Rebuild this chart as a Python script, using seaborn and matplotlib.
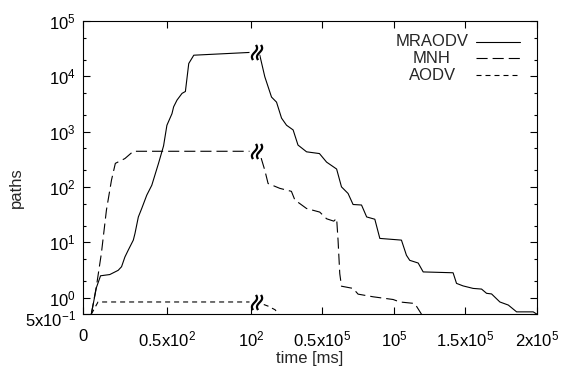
import numpy as np
import pandas as pd
import matplotlib
matplotlib.use("Agg")
import matplotlib.pyplot as plt
from matplotlib.path import Path
from matplotlib.lines import Line2D
from matplotlib.transforms import ScaledTranslation
from matplotlib.ticker import FixedLocator, FixedFormatter, LogLocator, NullFormatter
import seaborn as sns

# --- data (time in ms) ---
mraodv_t = [5, 8, 10.5, 16, 21, 23, 25, 27, 30, 31, 33, 35, 38, 41, 45, 48, 50, 53, 54, 56, 59, 61, 63, 66, 100,
            6300, 9800, 14500, 18000, 21500, 25000, 29600, 33000, 39000, 48000, 53000, 60000, 63400, 68000,
            71500, 77400, 81000, 86700, 90200, 105300, 108800, 111100, 117000, 120500, 141400, 143800, 148400,
            155400, 161300, 164800, 168300, 174100, 180000, 185800, 197400, 200000]
mraodv_p = [0.5, 1.5, 2.47, 2.6, 3.1, 3.6, 5.4, 7.2, 10.9, 14.4, 28.6, 40.6, 70.7, 107, 266, 550, 1300, 2100,
            2800, 3700, 4900, 5300, 17000, 24000, 27000,
            24000, 9800, 4200, 3400, 1750, 1300, 1070, 570, 430, 400, 280, 210, 100, 76,
            48, 47, 28.6, 26, 11.7, 10.9, 5.8, 4.7, 4.2, 2.9, 2.8, 1.8, 1.62,
            1.46, 1.42, 1.19, 1.16, 0.83, 0.73, 0.55, 0.55, 0.5]

mnh_t = [5, 8, 11, 14, 17, 19.3, 25, 30, 100, 6300, 9800, 12100, 20300, 28400, 30800, 39000, 48200, 53000,
         58000, 60000, 61000, 62200, 63400, 71500, 75000, 85500, 99500, 104200, 114600, 119300]
mnh_p = [0.5, 1.56, 6.3, 38, 132, 266, 325, 440, 440, 400, 200, 115, 94, 83, 58, 40.6, 35, 26.5,
         24, 27, 10.9, 2.7, 1.6, 1.46, 1.15, 1.03, 0.92, 0.83, 0.78, 0.5]

aodv_t = [5, 9, 100, 6000, 12000, 17000, 19500]
aodv_p = [0.5, 0.83, 0.83, 0.8, 0.7, 0.6, 0.5]

series = ["MRAODV", "MNH", "AODV"]
dashes = {"MRAODV": "", "MNH": (10, 4.5), "AODV": (4.5, 3.6)}

x_ticks = [0, 50, 100, 50000, 100000, 150000, 200000]
x_labels = ["0", "0.5x$10^2$", "$10^2$", "0.5x$10^5$", "$10^5$", "1.5x$10^5$", "2x$10^5$"]
y_ticks = [0.5, 1, 10, 100, 1000, 10000, 100000]
y_labels = ["5x$10^{-1}$", "$10^0$", "$10^1$", "$10^2$", "$10^3$", "$10^4$", "$10^5$"]

BREAK_T = 2000  # where the axis-break squiggle sits (just past 10^2)
LEFT_W, RIGHT_W = 168.0, 286.0  # relative widths of the two x segments
T_SPLIT, T_MAX = 100.0, 200000.0
FS = 12


def fwd(t):
    t = np.asarray(t, float)
    return np.where(t <= T_SPLIT, t * LEFT_W / T_SPLIT,
                    LEFT_W + (t - T_SPLIT) / (T_MAX - T_SPLIT) * RIGHT_W)


def inv(p):
    p = np.asarray(p, float)
    return np.where(p <= LEFT_W, p * T_SPLIT / LEFT_W,
                    T_SPLIT + (p - LEFT_W) / RIGHT_W * (T_MAX - T_SPLIT))


df = pd.concat([
    pd.DataFrame({"time": mraodv_t, "paths": mraodv_p, "protocol": "MRAODV"}),
    pd.DataFrame({"time": mnh_t, "paths": mnh_p, "protocol": "MNH"}),
    pd.DataFrame({"time": aodv_t, "paths": aodv_p, "protocol": "AODV"}),
], ignore_index=True)

sns.set_style("ticks")
plt.rcParams["font.family"] = ["Liberation Sans", "DejaVu Sans"]
plt.rcParams["mathtext.fontset"] = "custom"
plt.rcParams["mathtext.rm"] = "Liberation Sans"
plt.rcParams["mathtext.it"] = "Liberation Sans:italic"
plt.rcParams["mathtext.default"] = "regular"

fig, ax = plt.subplots(figsize=(5.64, 3.67), dpi=100)
fig.subplots_adjust(left=0.147, right=0.952, top=0.943, bottom=0.144)

ax.set_xscale("function", functions=(fwd, inv))
ax.set_yscale("log")

LW = 0.8
sns.lineplot(data=df, x="time", y="paths", style="protocol", style_order=series, dashes=dashes,
             color="black", linewidth=LW, estimator=None, sort=False, legend=False, ax=ax)

# axis-break squiggles on each curve
s = np.linspace(-np.pi, np.pi, 25)
verts, codes = [], []
for dx in (0.0, 1.0):
    xs = dx + 0.35 * np.sin(s) + 0.3 * s / np.pi
    ys = s / np.pi * 1.5
    for i, (a, b) in enumerate(zip(xs, ys)):
        verts.append((a, b))
        codes.append(Path.MOVETO if i == 0 else Path.LINETO)
squiggle = Path(verts, codes)
for t_arr, p_arr in [(mraodv_t, mraodv_p), (mnh_t, mnh_p), (aodv_t, aodv_p)]:
    yb = p_arr[t_arr.index(100)]
    ax.plot([BREAK_T], [yb], marker="s", ms=7, mfc="white", mec="none", ls="", zorder=3)
    ax.plot([BREAK_T], [yb], marker=squiggle, ms=11, mfc="none", mec="black", mew=1.6, ls="", zorder=4)

ax.set_xlim(0, T_MAX)
ax.set_ylim(0.5, 1e5)
ax.xaxis.set_major_locator(FixedLocator(x_ticks))
ax.xaxis.set_major_formatter(FixedFormatter(x_labels))
ax.xaxis.set_minor_locator(FixedLocator([]))
ax.yaxis.set_major_locator(FixedLocator(y_ticks))
ax.yaxis.set_major_formatter(FixedFormatter(y_labels))
ax.yaxis.set_minor_locator(LogLocator(base=10, subs=(2, 5)))
ax.yaxis.set_minor_formatter(NullFormatter())

ax.tick_params(which="both", direction="in", top=True, right=True, width=0.8, colors="black", labelsize=FS)
ax.tick_params(which="major", length=5)
ax.tick_params(which="minor", length=2.5)
ax.tick_params(axis="x", pad=11)
ax.tick_params(axis="y", pad=5)
for sp in ax.spines.values():
    sp.set_visible(True)
    sp.set_linewidth(0.8)
    sp.set_color("black")

# nudge the bottom y label down a little, as in the reference
yticks_objs = ax.yaxis.get_major_ticks()
lab0 = yticks_objs[0].label1
lab0.set_transform(lab0.get_transform() + ScaledTranslation(0, -4 / 100, fig.dpi_scale_trans))

ax.set_xlabel("time [ms]", fontsize=FS)
ax.set_ylabel("paths", fontsize=FS)
ax.xaxis.set_label_coords(0.5, -0.125)
ax.yaxis.set_label_coords(-0.13, 0.43)

# gnuplot-style key: centred text, sample line on the right
for i, name in enumerate(series):
    yk = 0.929 - i * 0.057
    ax.text(0.769, yk, name, transform=ax.transAxes, ha="center", va="center", fontsize=FS)
    d = dashes[name]
    ln = Line2D([0.866, 0.963], [yk, yk], transform=ax.transAxes, color="black", linewidth=LW)
    if d:
        ln.set_dashes(d)
    ax.add_line(ln)

fig.savefig("out.png", dpi=100)
